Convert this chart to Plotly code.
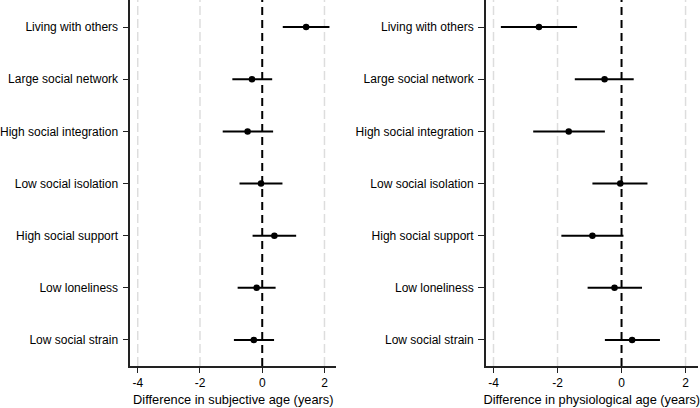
import plotly.graph_objects as go

categories = ["Living with others", "Large social network", "High social integration",
              "Low social isolation", "High social support", "Low loneliness", "Low social strain"]

subj_est = [1.41, -0.33, -0.47, -0.04, 0.39, -0.18, -0.27]
subj_lo = [0.66, -0.96, -1.27, -0.73, -0.31, -0.79, -0.91]
subj_hi = [2.16, 0.32, 0.35, 0.65, 1.09, 0.43, 0.38]

phys_est = [-2.58, -0.53, -1.65, -0.04, -0.91, -0.22, 0.33]
phys_lo = [-3.77, -1.46, -2.76, -0.91, -1.88, -1.06, -0.52]
phys_hi = [-1.39, 0.38, -0.52, 0.81, 0.06, 0.64, 1.20]

x_ticks = [-4, -2, 0, 2]
x_titles = ["Difference in subjective age (years)", "Difference in physiological age (years)"]

fig = go.Figure()
ypos = list(range(len(categories), 0, -1))

panels = [(subj_est, subj_lo, subj_hi, "x", "y"), (phys_est, phys_lo, phys_hi, "x2", "y2")]
for est, lo, hi, xa, ya in panels:
    fig.add_trace(go.Scatter(
        x=est, y=ypos, mode="markers", xaxis=xa, yaxis=ya,
        marker=dict(color="black", size=6.5),
        error_x=dict(type="data", symmetric=False,
                     array=[h - e for h, e in zip(hi, est)],
                     arrayminus=[e - l for e, l in zip(est, lo)],
                     color="black", thickness=2, width=0),
        showlegend=False, hoverinfo="skip"))

font = dict(family="Liberation Sans, Arial, sans-serif", color="black")
ticktext = [str(t) if t >= 0 else "-" + str(-t) for t in x_ticks]
xcommon = dict(range=[-4.24, 2.38], tickvals=x_ticks, ticktext=ticktext,
               showgrid=False, zeroline=False, showline=True, linecolor="#222", linewidth=1.5,
               ticks="outside", ticklen=5, tickcolor="#222", tickwidth=1.2,
               tickfont=dict(size=12, **font))
ycommon = dict(range=[0.5, 7.52], tickvals=ypos, ticktext=categories, showgrid=False, zeroline=False,
               showline=True, linecolor="#222", linewidth=1.5, ticks="outside", ticklen=6,
               tickcolor="#222", tickwidth=1.2, tickfont=dict(size=12, **font), ticklabelstandoff=2)

fig.update_layout(
    width=700, height=408, margin=dict(l=0, r=0, t=0, b=42),
    plot_bgcolor="white", paper_bgcolor="white",
    xaxis=dict(domain=[0.1743, 0.4729], anchor="y", title=dict(text=x_titles[0], font=dict(size=12.8, **font), standoff=6), **xcommon),
    yaxis=dict(domain=[0, 1], anchor="x", **ycommon),
    xaxis2=dict(domain=[0.6896, 0.9967], anchor="y2", title=dict(text=x_titles[1], font=dict(size=12.8, **font), standoff=6), **xcommon),
    yaxis2=dict(domain=[0, 1], anchor="x2", **ycommon),
)

for xr, yr in [("x", "y"), ("x2", "y2")]:
    for t in x_ticks:
        if t == 0:
            ln = dict(color="black", width=2, dash="8px,5px")
        else:
            ln = dict(color="#dddddd", width=1.5, dash="9px,4px")
        fig.add_shape(type="line", xref=xr, yref=yr + " domain", x0=t, x1=t, y0=0, y1=1,
                      line=ln, layer="below")

fig.write_html("out.html")
